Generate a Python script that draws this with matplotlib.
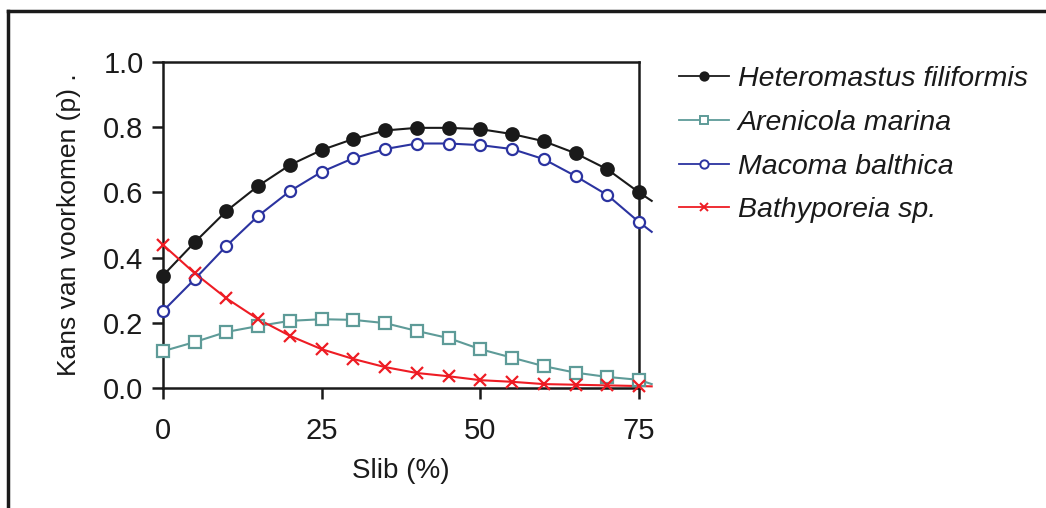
import matplotlib
matplotlib.use("Agg")
import matplotlib.pyplot as plt
from matplotlib.lines import Line2D

plt.rcParams['font.family'] = ['Liberation Sans', 'DejaVu Sans']

slib = [0, 5, 10, 15, 20, 25, 30, 35, 40, 45, 50, 55, 60, 65, 70, 75]
slib_end = 77

heteromastus = [0.345, 0.447, 0.543, 0.620, 0.684, 0.730, 0.764, 0.790,
                0.798, 0.798, 0.794, 0.779, 0.757, 0.720, 0.671, 0.600]
arenicola = [0.113, 0.141, 0.172, 0.190, 0.206, 0.211, 0.209, 0.199,
             0.175, 0.153, 0.119, 0.093, 0.067, 0.047, 0.034, 0.025]
macoma = [0.236, 0.334, 0.436, 0.528, 0.604, 0.663, 0.705, 0.733,
          0.750, 0.750, 0.745, 0.733, 0.702, 0.650, 0.592, 0.509]
bathyporeia = [0.439, 0.352, 0.275, 0.211, 0.160, 0.119, 0.089, 0.064,
               0.046, 0.036, 0.024, 0.019, 0.012, 0.010, 0.008, 0.006]

# where the smoothed lines stop, just right of the last point
end_values = [0.574, 0.012, 0.479, 0.005]

names = ['Heteromastus filiformis', 'Arenicola marina',
         'Macoma balthica', 'Bathyporeia sp.']
colors = ['#1a1a1a', '#5e9b98', '#2b33a0', '#ee1c24']
markers = ['o', 's', 'o', 'x']
faces = ['#1a1a1a', 'white', 'white', '#ee1c24']
sizes = [9, 8, 8, 8]

fig = plt.figure(figsize=(10.46, 5.08), dpi=100)
ax = fig.add_axes([163 / 1046, 1 - 388 / 508, 476 / 1046, 326 / 508])

series = [heteromastus, arenicola, macoma, bathyporeia]
handles = []
for vals, end, name, c, m, fc, ms in zip(series, end_values, names, colors,
                                         markers, faces, sizes):
    ax.plot(slib + [slib_end], vals + [end], color=c, lw=1.5, clip_on=False,
            zorder=2)
    ax.plot(slib, vals, linestyle='none', marker=m, markersize=ms,
            markerfacecolor=fc, markeredgecolor=c, markeredgewidth=1.6,
            clip_on=False, zorder=3)
    handles.append(Line2D([], [], color=c, lw=1.3, marker=m, markersize=6,
                          markerfacecolor=fc, markeredgecolor=c,
                          markeredgewidth=1.4, label=name))

ax.set_xlim(0, 75)
ax.set_ylim(0, 1.0)
ax.set_xticks([0, 25, 50, 75])
ax.set_yticks([0.0, 0.2, 0.4, 0.6, 0.8, 1.0])
ax.set_yticklabels(['0.0', '0.2', '0.4', '0.6', '0.8', '1.0'])
ax.tick_params(labelsize=21, width=1.8, length=8, direction='out',
               colors='#1a1a1a', pad=6)
ax.tick_params(axis='x', pad=13)
for s in ax.spines.values():
    s.set_linewidth(1.8)
    s.set_color('#1a1a1a')

ax.set_xlabel('Slib (%)', fontsize=20, color='#1a1a1a', labelpad=9)
ax.set_ylabel('Kans van voorkomen (p) .', fontsize=19, color='#1a1a1a',
              labelpad=16)

leg = fig.legend(handles=handles, loc='upper left',
                 bbox_to_anchor=(668 / 1046, 1 - 55 / 508), frameon=False,
                 fontsize=20.5, handlelength=1.75, handletextpad=0.3,
                 labelspacing=0.62, borderaxespad=0)
for t in leg.get_texts():
    t.set_fontstyle('italic')
    t.set_color('#1a1a1a')

# outer frame (top and left edges)
fig.add_artist(Line2D([8 / 1046, 1], [1 - 11 / 508, 1 - 11 / 508],
                      transform=fig.transFigure, color='#1a1a1a', lw=2.5))
fig.add_artist(Line2D([8 / 1046, 8 / 1046], [0, 1 - 11 / 508],
                      transform=fig.transFigure, color='#1a1a1a', lw=2.5))

fig.savefig('out.png', dpi=100)
